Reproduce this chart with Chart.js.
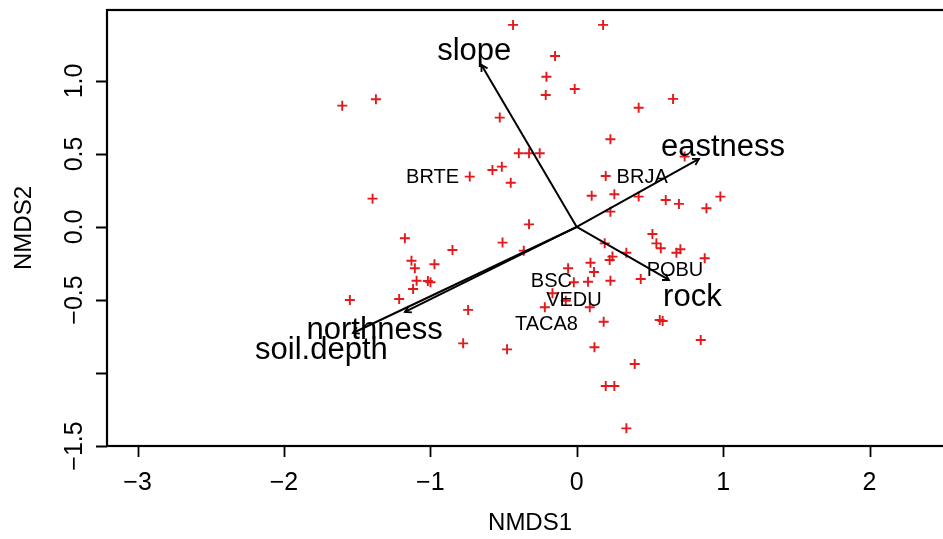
<!DOCTYPE html>
<html>
<head>
<meta charset="utf-8">
<script src="https://cdn.jsdelivr.net/npm/chart.js@4"></script>
<style>
  html, body { margin: 0; padding: 0; background: #fff; overflow: hidden; }
  #wrap { width: 960px; height: 539px; position: relative; }
</style>
</head>
<body>
<div id="wrap"><canvas id="nmdsChart"></canvas></div>
<script>
// ---- data ----
const xTicks = [-3, -2, -1, 0, 1, 2];
const xTickLabels = ['\u22123', '\u22122', '\u22121', '0', '1', '2'];
const yTicks = [1.0, 0.5, 0.0, -0.5, -1.0, -1.5];
const yTickLabels = ['1.0', '0.5', '0.0', '\u22120.5', '', '\u22121.5'];

// site scores (red crosses)
const siteX = [-0.435, 0.180, -0.148, -0.207, -0.014, -0.212, -1.602, -1.372, -0.526, 0.230,
  -0.396, -0.326, -0.253, -0.731, -0.576, -0.512, -0.451, 0.198, 0.102, 0.257,
  0.230, -1.395, -0.326, -1.174, -0.507, -0.849, -0.362, -1.129, -1.106, -0.972,
  -1.094, -0.999, -1.017, -1.118, -1.550, -1.213, -0.742, -0.776, -0.476, -0.059,
  0.094, 0.118, -0.020, 0.077, 0.230, 0.225, 0.244, -0.166, -0.075, -0.218,
  0.089, 0.184, 0.121, 0.198, 0.257, 0.339, 0.191, 0.517, 0.544, 0.574,
  0.681, 0.708, 0.874, 0.339, 0.437, 0.567, 0.587, 0.847, 0.396, 0.658,
  0.423, 0.737, 0.423, 0.608, 0.698, 0.886, 0.981];
const siteY = [1.384, 1.384, 1.171, 1.029, 0.945, 0.904, 0.831, 0.875, 0.749, 0.601,
  0.505, 0.505, 0.505, 0.345, 0.390, 0.413, 0.303, 0.349, 0.214, 0.224,
  0.105, 0.194, 0.018, -0.077, -0.107, -0.158, -0.162, -0.231, -0.283, -0.255,
  -0.368, -0.379, -0.370, -0.425, -0.500, -0.493, -0.568, -0.797, -0.838, -0.283,
  -0.245, -0.308, -0.379, -0.375, -0.368, -0.226, -0.203, -0.454, -0.505, -0.550,
  -0.550, -0.649, -0.824, -1.089, -1.089, -1.379, -0.112, -0.048, -0.112, -0.146,
  -0.176, -0.153, -0.214, -0.176, -0.356, -0.637, -0.644, -0.774, -0.938, 0.877,
  0.817, 0.482, 0.208, 0.185, 0.158, 0.128, 0.208];

// environmental vectors
const vectorNames = ['slope', 'eastness', 'rock', 'northness', 'soil.depth'];
const vectorX = [-0.651, 0.835, 0.630, -1.174, -1.529];
const vectorY = [1.110, 0.466, -0.363, -0.582, -0.726];
const vectorLabelX = [-0.70, 0.999, 0.79, -1.381, -1.744];
const vectorLabelY = [1.22, 0.562, -0.469, -0.69, -0.827];

// species labels
const speciesNames = ['BRTE', 'BRJA', 'POBU', 'BSC', 'VEDU', 'TACA8'];
const speciesX = [-0.985, 0.447, 0.671, -0.173, -0.019, -0.207];
const speciesY = [0.348, 0.351, -0.291, -0.361, -0.495, -0.658];

const FONT = '"Liberation Sans", Arial, Helvetica, sans-serif';

// ---- arrowheads, text and R-style axes ----
const rDecor = {
  id: 'rDecor',
  afterDatasetsDraw(chart) {
    const ctx = chart.ctx;
    const xs = chart.scales.x, ys = chart.scales.y;
    const x0 = xs.getPixelForValue(0), y0 = ys.getPixelForValue(0);

    ctx.save();
    ctx.strokeStyle = '#000';
    ctx.lineWidth = 1.8;
    vectorNames.forEach((n, i) => {
      const px = xs.getPixelForValue(vectorX[i]);
      const py = ys.getPixelForValue(vectorY[i]);
      const ang = Math.atan2(py - y0, px - x0);
      const len = 7;
      ctx.beginPath();
      ctx.moveTo(px - len * Math.cos(ang - Math.PI / 6), py - len * Math.sin(ang - Math.PI / 6));
      ctx.lineTo(px, py);
      ctx.lineTo(px - len * Math.cos(ang + Math.PI / 6), py - len * Math.sin(ang + Math.PI / 6));
      ctx.stroke();
    });

    ctx.fillStyle = '#000';
    ctx.textAlign = 'center';
    ctx.textBaseline = 'alphabetic';
    ctx.font = '20px ' + FONT;
    speciesNames.forEach((n, i) => {
      ctx.fillText(n, xs.getPixelForValue(speciesX[i]), ys.getPixelForValue(speciesY[i]) + 7);
    });
    ctx.font = '31px ' + FONT;
    vectorNames.forEach((n, i) => {
      ctx.fillText(n, xs.getPixelForValue(vectorLabelX[i]), ys.getPixelForValue(vectorLabelY[i]) + 11);
    });
    ctx.restore();
  },
  afterDraw(chart) {
    const ctx = chart.ctx;
    const a = chart.chartArea;
    const xs = chart.scales.x, ys = chart.scales.y;
    ctx.save();
    ctx.strokeStyle = '#000';
    ctx.lineWidth = 2.2;
    ctx.strokeRect(a.left, a.top, a.right - a.left, a.bottom - a.top);

    ctx.lineWidth = 1.8;
    ctx.beginPath();
    xTicks.forEach(v => {
      const px = Math.round(xs.getPixelForValue(v)) + 0.5;
      ctx.moveTo(px, a.bottom);
      ctx.lineTo(px, a.bottom + 11);
    });
    yTicks.forEach(v => {
      const py = Math.round(ys.getPixelForValue(v)) + 0.5;
      ctx.moveTo(a.left, py);
      ctx.lineTo(a.left - 11, py);
    });
    ctx.stroke();

    ctx.fillStyle = '#000';
    ctx.font = '25px ' + FONT;
    ctx.textAlign = 'center';
    ctx.textBaseline = 'alphabetic';
    xTicks.forEach((v, i) => {
      ctx.fillText(xTickLabels[i], xs.getPixelForValue(v), a.bottom + 35 + 9);
    });
    yTicks.forEach((v, i) => {
      if (!yTickLabels[i]) return;
      ctx.save();
      ctx.translate(a.left - 34, ys.getPixelForValue(v));
      ctx.rotate(-Math.PI / 2);
      ctx.fillText(yTickLabels[i], 0, 9);
      ctx.restore();
    });

    // axis titles
    ctx.font = '24px ' + FONT;
    ctx.fillText('NMDS1', (a.left + a.right) / 2, a.bottom + 75 + 8.6);
    ctx.save();
    ctx.translate(22.5, (a.top + a.bottom) / 2);
    ctx.rotate(-Math.PI / 2);
    ctx.fillText('NMDS2', 0, 8.6);
    ctx.restore();
    ctx.restore();
  }
};

const sitePoints = siteX.map((x, i) => ({ x: x, y: siteY[i] }));
const vectorSets = vectorNames.map((n, i) => ({
  type: 'line',
  label: n,
  data: [{ x: 0, y: 0 }, { x: vectorX[i], y: vectorY[i] }],
  borderColor: '#000',
  borderWidth: 2,
  pointRadius: 0,
  fill: false,
  order: 1
}));

new Chart(document.getElementById('nmdsChart'), {
  type: 'scatter',
  data: {
    datasets: [{
      label: 'sites',
      data: sitePoints,
      pointStyle: 'cross',
      pointRadius: 5,
      borderColor: '#e3191c',
      borderWidth: 1.9,
      backgroundColor: '#e3191c',
      order: 2
    }].concat(vectorSets)
  },
  options: {
    responsive: true,
    maintainAspectRatio: false,
    animation: false,
    layout: { padding: { left: 107, top: 10, right: 6, bottom: 93 } },
    scales: {
      x: { type: 'linear', display: false, min: -3.209, max: 2.571 },
      y: { type: 'linear', display: false, min: -1.5, max: 1.486 }
    },
    plugins: {
      legend: { display: false },
      tooltip: { enabled: false }
    }
  },
  plugins: [rDecor]
});
</script>
</body>
</html>
